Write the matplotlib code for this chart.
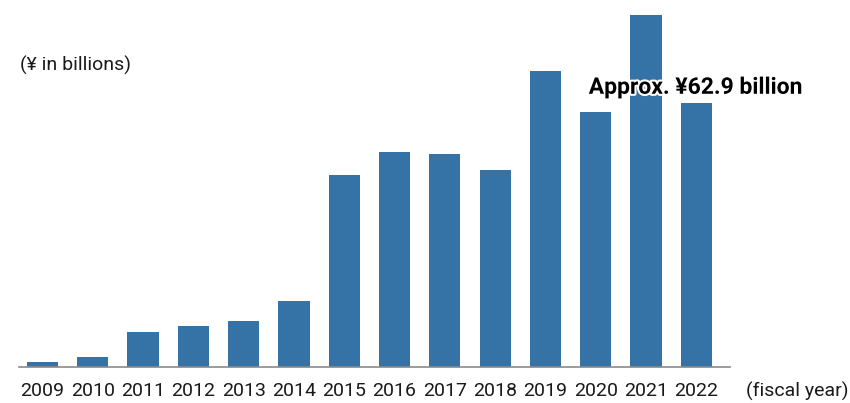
import matplotlib
matplotlib.use("Agg")
import matplotlib.pyplot as plt
import matplotlib.patheffects as pe

# fiscal years and values (¥ billions)
years = ["2009", "2010", "2011", "2012", "2013", "2014", "2015",
         "2016", "2017", "2018", "2019", "2020", "2021", "2022"]
values = [1.2, 2.5, 8.3, 9.8, 11.0, 15.8, 45.6,
          51.1, 50.8, 47.0, 70.5, 60.6, 83.8, 62.9]

plt.rcParams['font.family'] = ['Roboto', 'DejaVu Sans']

W, H = 850, 403
fig = plt.figure(figsize=(W / 100, H / 100), dpi=100)
ax = fig.add_axes([19 / W, (H - 367) / H, (730 - 19) / W, 367 / H])

x = list(range(len(years)))
ax.bar(x, values, width=0.62, color="#3572A5", zorder=2)

ax.set_xlim(-0.467, 13.67)
ax.set_ylim(0, 367 / 4.2)

for s in ["top", "right", "left"]:
    ax.spines[s].set_visible(False)
ax.spines["bottom"].set_color("#8a8a8a")
ax.spines["bottom"].set_linewidth(1.2)
ax.set_yticks([])
ax.set_xticks(x)
ax.set_xticklabels(years, fontsize=14, color="#1a1a1a")
ax.tick_params(axis="x", length=0, pad=11)

fig.text(20 / W, 1 - 65 / H, "(¥ in billions)", fontsize=14, color="#1a1a1a",
         va="center", ha="left")
fig.text(848 / W, 1 - 391 / H, "(fiscal year)", fontsize=14, color="#1a1a1a",
         va="center", ha="right")

ax.text(12.98, 66.6, "Approx. ¥62.9 billion", fontsize=16.5, fontweight="bold",
        ha="center", va="center", color="black", zorder=3,
        path_effects=[pe.withStroke(linewidth=3, foreground="white")])

fig.savefig("out.png", dpi=100)
